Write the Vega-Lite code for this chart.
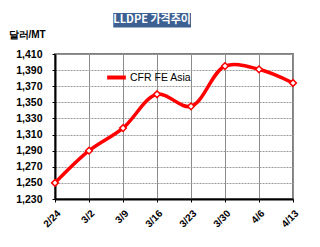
{
  "$schema": "https://vega.github.io/schema/vega-lite/v6.json",
  "width": 238,
  "height": 145,
  "autosize": {"type": "none"},
  "padding": {"left": 55, "top": 54, "right": 27, "bottom": 48},
  "background": "white",
  "config": {
    "font": "Liberation Sans",
    "view": {"stroke": "#808080", "strokeWidth": 2}
  },
  "data": {
    "values": [
      {"date": "2012-02-24", "price": 1250, "series": "CFR FE Asia"},
      {"date": "2012-03-02", "price": 1290, "series": "CFR FE Asia"},
      {"date": "2012-03-09", "price": 1318, "series": "CFR FE Asia"},
      {"date": "2012-03-16", "price": 1360, "series": "CFR FE Asia"},
      {"date": "2012-03-23", "price": 1345, "series": "CFR FE Asia"},
      {"date": "2012-03-30", "price": 1395, "series": "CFR FE Asia"},
      {"date": "2012-04-06", "price": 1391, "series": "CFR FE Asia"},
      {"date": "2012-04-13", "price": 1374, "series": "CFR FE Asia"}
    ]
  },
  "layer": [
    {
      "mark": {"type": "line", "interpolate": "catmull-rom", "strokeWidth": 3.5,
        "point": {"shape": "diamond", "filled": true, "fill": "white", "stroke": "#ff0000", "strokeWidth": 1.5, "size": 45, "opacity": 1}},
      "encoding": {
        "x": {
          "field": "date", "type": "temporal",
          "scale": {"type": "utc", "nice": false,
            "domain": [{"year": 2012, "month": 2, "date": 24, "utc": true}, {"year": 2012, "month": 4, "date": 13, "utc": true}]},
          "axis": {
            "title": null,
            "values": [
              {"year": 2012, "month": 2, "date": 24, "utc": true},
              {"year": 2012, "month": 3, "date": 2, "utc": true},
              {"year": 2012, "month": 3, "date": 9, "utc": true},
              {"year": 2012, "month": 3, "date": 16, "utc": true},
              {"year": 2012, "month": 3, "date": 23, "utc": true},
              {"year": 2012, "month": 3, "date": 30, "utc": true},
              {"year": 2012, "month": 4, "date": 6, "utc": true},
              {"year": 2012, "month": 4, "date": 13, "utc": true}
            ],
            "labelExpr": "utcFormat(datum.value, '%-m/%-d')",
            "labelAngle": -45, "labelAlign": "right", "labelBaseline": "top",
            "labelPadding": 6, "labelFontSize": 10, "labelFontWeight": "bold", "labelColor": "black",
            "labelFlush": false, "labelOverlap": false,
            "domainColor": "black", "domainWidth": 2,
            "ticks": true, "tickColor": "black", "tickSize": 3,
            "grid": true, "gridColor": "#8c8c8c", "gridWidth": 1
          }
        },
        "y": {
          "field": "price", "type": "quantitative",
          "scale": {"domain": [1230, 1410], "nice": false, "zero": false},
          "axis": {
            "values": [1230, 1250, 1270, 1290, 1310, 1330, 1350, 1370, 1390, 1410],
            "labelExpr": "format(datum.value, ',')",
            "title": "달러/MT", "titleAngle": 0, "titleAlign": "left", "titleBaseline": "alphabetic",
            "titleX": -47, "titleY": -17, "titleFontSize": 10, "titleFontWeight": "bold", "titleColor": "black",
            "labelFontSize": 10.5, "labelFontWeight": "bold", "labelColor": "black", "labelPadding": 10,
            "labelFlush": false,
            "domainColor": "black", "domainWidth": 2,
            "tickColor": "black", "tickSize": 3,
            "grid": true, "gridColor": "#9a9a9a", "gridWidth": 1, "gridDash": [2, 1]
          }
        },
        "color": {
          "field": "series", "type": "nominal",
          "scale": {"range": ["#ff0000"]},
          "legend": {
            "title": null, "orient": "none", "legendX": 50, "legendY": 12,
            "symbolType": "stroke", "symbolStrokeWidth": 4, "symbolSize": 350,
            "labelFontSize": 10.5, "labelColor": "black", "labelOffset": 2, "padding": 0
          }
        }
      }
    },
    {
      "data": {"values": [{"title": "LLDPE 가격추이"}]},
      "mark": {"type": "rect", "color": "#3c6092"},
      "encoding": {
        "x": {"datum": {"year": 2012, "month": 3, "date": 7, "utc": true}, "type": "temporal",
          "axis": {
            "title": null,
            "values": [
              {"year": 2012, "month": 2, "date": 24, "utc": true},
              {"year": 2012, "month": 3, "date": 2, "utc": true},
              {"year": 2012, "month": 3, "date": 9, "utc": true},
              {"year": 2012, "month": 3, "date": 16, "utc": true},
              {"year": 2012, "month": 3, "date": 23, "utc": true},
              {"year": 2012, "month": 3, "date": 30, "utc": true},
              {"year": 2012, "month": 4, "date": 6, "utc": true},
              {"year": 2012, "month": 4, "date": 13, "utc": true}
            ],
            "labelExpr": "utcFormat(datum.value, '%-m/%-d')",
            "labelAngle": -45, "labelAlign": "right", "labelBaseline": "top",
            "labelPadding": 6, "labelFontSize": 10, "labelFontWeight": "bold", "labelColor": "black",
            "labelFlush": false, "labelOverlap": false,
            "domainColor": "black", "domainWidth": 2,
            "ticks": true, "tickColor": "black", "tickSize": 3,
            "grid": true, "gridColor": "#8c8c8c", "gridWidth": 1
          }},
        "x2": {"datum": {"year": 2012, "month": 3, "date": 23, "utc": true}},
        "y": {"datum": 1461, "type": "quantitative",
          "axis": {
            "values": [1230, 1250, 1270, 1290, 1310, 1330, 1350, 1370, 1390, 1410],
            "labelExpr": "format(datum.value, ',')",
            "title": "달러/MT", "titleAngle": 0, "titleAlign": "left", "titleBaseline": "alphabetic",
            "titleX": -47, "titleY": -17, "titleFontSize": 10, "titleFontWeight": "bold", "titleColor": "black",
            "labelFontSize": 10.5, "labelFontWeight": "bold", "labelColor": "black", "labelPadding": 10,
            "labelFlush": false,
            "domainColor": "black", "domainWidth": 2,
            "tickColor": "black", "tickSize": 3,
            "grid": true, "gridColor": "#9a9a9a", "gridWidth": 1, "gridDash": [2, 1]
          }},
        "y2": {"datum": 1443}
      }
    },
    {
      "data": {"values": [{"title": "LLDPE 가격추이"}]},
      "mark": {"type": "text", "color": "white", "fontSize": 11, "fontWeight": "bold", "font": "Noto Sans CJK KR", "baseline": "middle", "align": "center"},
      "encoding": {
        "x": {"datum": {"year": 2012, "month": 3, "date": 15, "utc": true}, "type": "temporal",
          "axis": {
            "title": null,
            "values": [
              {"year": 2012, "month": 2, "date": 24, "utc": true},
              {"year": 2012, "month": 3, "date": 2, "utc": true},
              {"year": 2012, "month": 3, "date": 9, "utc": true},
              {"year": 2012, "month": 3, "date": 16, "utc": true},
              {"year": 2012, "month": 3, "date": 23, "utc": true},
              {"year": 2012, "month": 3, "date": 30, "utc": true},
              {"year": 2012, "month": 4, "date": 6, "utc": true},
              {"year": 2012, "month": 4, "date": 13, "utc": true}
            ],
            "labelExpr": "utcFormat(datum.value, '%-m/%-d')",
            "labelAngle": -45, "labelAlign": "right", "labelBaseline": "top",
            "labelPadding": 6, "labelFontSize": 10, "labelFontWeight": "bold", "labelColor": "black",
            "labelFlush": false, "labelOverlap": false,
            "domainColor": "black", "domainWidth": 2,
            "ticks": true, "tickColor": "black", "tickSize": 3,
            "grid": true, "gridColor": "#8c8c8c", "gridWidth": 1
          }},
        "y": {"datum": 1452, "type": "quantitative",
          "axis": {
            "values": [1230, 1250, 1270, 1290, 1310, 1330, 1350, 1370, 1390, 1410],
            "labelExpr": "format(datum.value, ',')",
            "title": "달러/MT", "titleAngle": 0, "titleAlign": "left", "titleBaseline": "alphabetic",
            "titleX": -47, "titleY": -17, "titleFontSize": 10, "titleFontWeight": "bold", "titleColor": "black",
            "labelFontSize": 10.5, "labelFontWeight": "bold", "labelColor": "black", "labelPadding": 10,
            "labelFlush": false,
            "domainColor": "black", "domainWidth": 2,
            "tickColor": "black", "tickSize": 3,
            "grid": true, "gridColor": "#9a9a9a", "gridWidth": 1, "gridDash": [2, 1]
          }},
        "text": {"field": "title"}
      }
    }
  ]
}
